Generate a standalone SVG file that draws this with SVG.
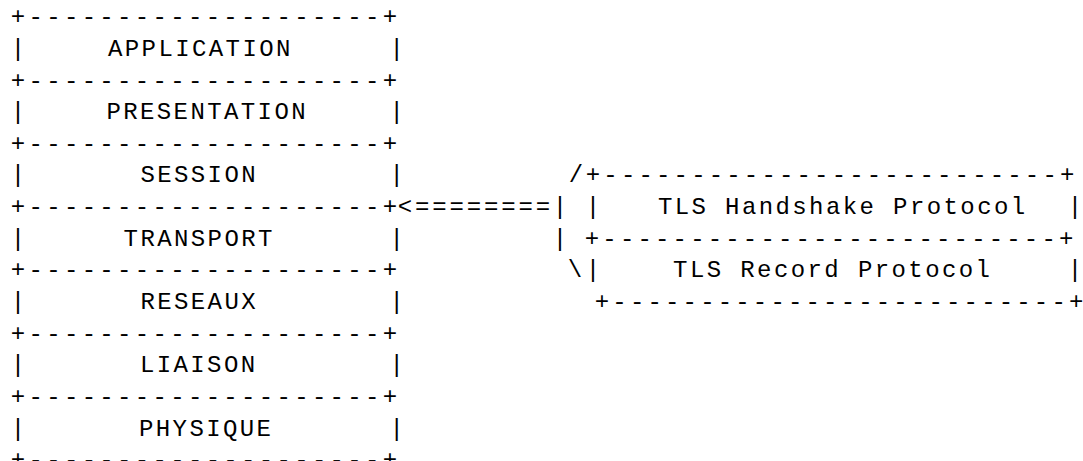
<svg xmlns="http://www.w3.org/2000/svg" width="1083" height="461" viewBox="0 0 1083 461">
<style>
text { font-family: "Liberation Mono", "DejaVu Sans Mono", monospace; font-size: 24px; fill: #000; }
.bl { letter-spacing: 3.31px; }
.br { letter-spacing: 3.16px; }
.w { letter-spacing: 2.4px; }
.eq { letter-spacing: 2.85px; }
</style>
<rect width="1083" height="461" fill="#fff"/>
<g id="osi-stack">
  <g id="borders">
    <text class="bl" x="10.8" y="24.2">+--------------------+</text>
    <text class="bl" x="10.8" y="87.5">+--------------------+</text>
    <text class="bl" x="10.8" y="150.8">+--------------------+</text>
    <text class="bl" x="10.8" y="214.1">+--------------------+</text>
    <text class="bl" x="10.8" y="277.4">+--------------------+</text>
    <text class="bl" x="10.8" y="340.7">+--------------------+</text>
    <text class="bl" x="10.8" y="404">+--------------------+</text>
    <text class="bl" x="10.8" y="467.3">+--------------------+</text>
  </g>
  <g id="application"><text x="10.8" y="55.85">|</text><text class="w" x="108" y="55.85">APPLICATION</text><text x="389.5" y="55.85">|</text></g>
  <g id="presentation"><text x="10.8" y="119.15">|</text><text class="w" x="106.4" y="119.15">PRESENTATION</text><text x="389.5" y="119.15">|</text></g>
  <g id="session"><text x="10.8" y="182.45">|</text><text class="w" x="140.4" y="182.45">SESSION</text><text x="389.5" y="182.45">|</text></g>
  <g id="transport"><text x="10.8" y="245.75">|</text><text class="w" x="123.6" y="245.75">TRANSPORT</text><text x="389.5" y="245.75">|</text></g>
  <g id="reseaux"><text x="10.8" y="309.05">|</text><text class="w" x="140.4" y="309.05">RESEAUX</text><text x="389.5" y="309.05">|</text></g>
  <g id="liaison"><text x="10.8" y="372.35">|</text><text class="w" x="139.9" y="372.35">LIAISON</text><text x="389.5" y="372.35">|</text></g>
  <g id="physique"><text x="10.8" y="435.65">|</text><text class="w" x="139" y="435.65">PHYSIQUE</text><text x="389.5" y="435.65">|</text></g>
</g>
<g id="tls-stack">
  <text class="br" x="585.8" y="182.45">+--------------------------+</text>
  <g id="tls-handshake"><text x="585.8" y="214.1">|</text><text class="w" x="657.9" y="214.1">TLS Handshake Protocol</text><text x="1067.8" y="214.1">|</text></g>
  <text class="br" x="584.8" y="245.75">+--------------------------+</text>
  <g id="tls-record"><text x="585.8" y="277.4">|</text><text class="w" x="673.1" y="277.4">TLS Record Protocol</text><text x="1067.8" y="277.4">|</text></g>
  <text class="br" x="594.8" y="309.05">+--------------------------+</text>
</g>
<g id="connectors">
  <text class="eq" x="397.8" y="214.1">&lt;========</text>
  <text x="568.8" y="182.45">/</text>
  <text x="552.8" y="214.1">|</text>
  <text x="552.8" y="245.75">|</text>
  <text x="567.8" y="277.4">\</text>
</g>
</svg>
